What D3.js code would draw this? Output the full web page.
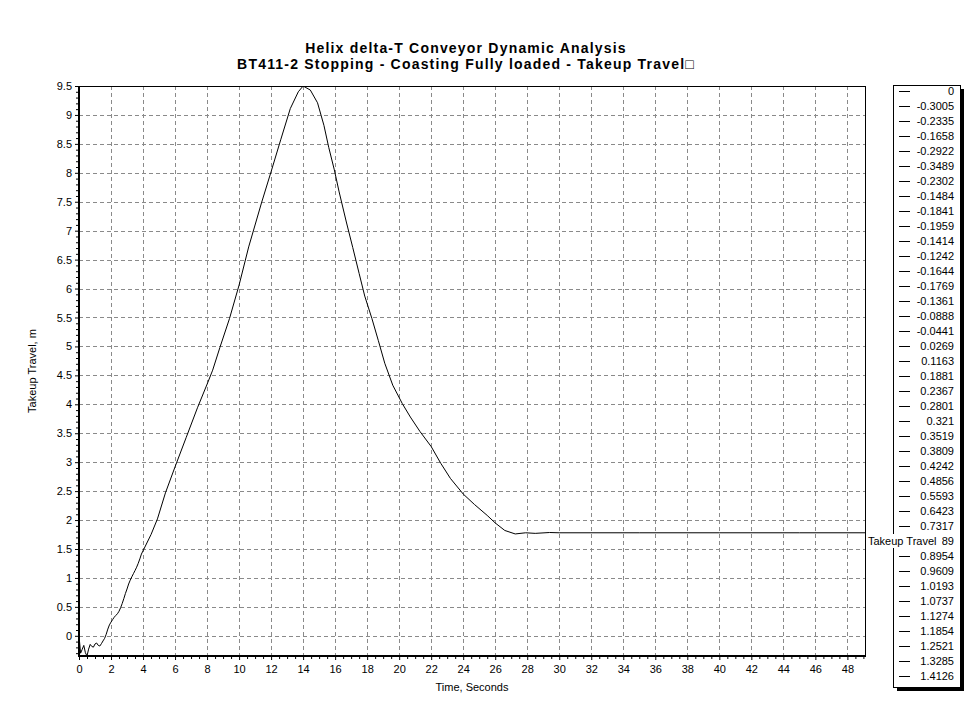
<!DOCTYPE html>
<html><head><meta charset="utf-8">
<script src="https://cdn.jsdelivr.net/npm/d3@7"></script>
<style>
body{margin:0;background:#fff;}
svg{display:block;font-family:"Liberation Sans",Arial,sans-serif;}
</style></head>
<body><svg id="c" width="980" height="716"></svg>
<script>
const titleLines = ["Helix delta-T Conveyor Dynamic Analysis", "BT411-2 Stopping - Coasting Fully loaded - Takeup Travel\u25A1"];
const xLabel = "Time, Seconds";
const yLabel = "Takeup Travel, m";
const seriesName = "Takeup Travel";

// legend entries (first 40 samples, as shown in the legend)
const legendValues = ["0","-0.3005","-0.2335","-0.1658","-0.2922","-0.3489","-0.2302","-0.1484","-0.1841","-0.1959",
  "-0.1414","-0.1242","-0.1644","-0.1769","-0.1361","-0.0888","-0.0441","0.0269","0.1163","0.1881",
  "0.2367","0.2801","0.321","0.3519","0.3809","0.4242","0.4856","0.5593","0.6423","0.7317",
  "0.8089","0.8954","0.9609","1.0193","1.0737","1.1274","1.1854","1.2521","1.3285","1.4126"];

const timeSeconds = [0,0.1,0.2,0.3,0.4,0.5,0.6,0.7,0.8,0.9,1.0,1.1,1.2,1.3,1.4,1.5,1.6,1.7,1.8,1.9,
  2.0,2.1,2.2,2.3,2.4,2.5,2.6,2.7,2.8,2.9,3.0,3.1,3.2,3.3,3.4,3.5,3.6,3.7,3.8,3.9,
  4.5,4.9,5.4,6.0,6.7,7.4,8.05,8.35,8.8,9.4,10.0,10.6,11.4,12.0,12.6,13.2,13.7,14.0,
  14.45,14.9,15.3,15.6,15.95,16.25,16.7,17.1,17.5,17.85,18.3,18.7,19.1,19.6,20.2,20.7,21.3,
  22.0,22.6,23.2,24.0,24.7,25.5,26.0,26.6,27.25,27.9,28.5,29.4,30,35,40,45,49.1];
const takeupTravel = [0,-0.3005,-0.2335,-0.1658,-0.2922,-0.3489,-0.2302,-0.1484,-0.1841,-0.1959,
  -0.1414,-0.1242,-0.1644,-0.1769,-0.1361,-0.0888,-0.0441,0.0269,0.1163,0.1881,
  0.2367,0.2801,0.321,0.3519,0.3809,0.4242,0.4856,0.5593,0.6423,0.7317,
  0.8089,0.8954,0.9609,1.0193,1.0737,1.1274,1.1854,1.2521,1.3285,1.4126,
  1.75,2.02,2.47,2.92,3.43,3.94,4.38,4.59,4.98,5.48,6.06,6.72,7.48,8.02,8.57,9.11,9.40,9.50,
  9.43,9.21,8.82,8.44,8.05,7.67,7.15,6.71,6.26,5.87,5.48,5.10,4.71,4.33,4.01,3.78,3.53,
  3.27,2.98,2.72,2.45,2.27,2.08,1.95,1.82,1.76,1.78,1.77,1.785,1.78,1.78,1.78,1.78,1.78];

const xTicks = [0,2,4,6,8,10,12,14,16,18,20,22,24,26,28,30,32,34,36,38,40,42,44,46,48];
const yTicks = [0,0.5,1,1.5,2,2.5,3,3.5,4,4.5,5,5.5,6,6.5,7,7.5,8,8.5,9,9.5];

const svg = d3.select("#c");
const L = 79, R = 865, T = 86, B = 656;
const x = d3.scaleLinear().domain([0, 49.1]).range([L, R]);
const y = d3.scaleLinear().domain([-0.3489, 9.5]).range([B, T]);

// title
svg.selectAll("text.title").data(titleLines).enter().append("text")
  .attr("x", 466).attr("y", (d,i)=>53+i*16).attr("text-anchor","middle")
  .attr("font-size", 14).attr("letter-spacing", 1.2).attr("font-weight","bold").text(d=>d);

// gridlines
const grid = svg.append("g").attr("stroke","#8a8a8a").attr("stroke-dasharray","4,3").attr("stroke-width",1);
grid.selectAll("line.vx").data(xTicks.filter(t=>t>0)).enter().append("line")
  .attr("x1",d=>Math.round(x(d))+0.5).attr("x2",d=>Math.round(x(d))+0.5).attr("y1",T).attr("y2",B);
grid.selectAll("line.hy").data(yTicks).enter().append("line")
  .attr("y1",d=>Math.round(y(d))+0.5).attr("y2",d=>Math.round(y(d))+0.5).attr("x1",L).attr("x2",R);

// axes
const xAxis = d3.axisBottom(x).tickValues(xTicks).tickSize(4).tickPadding(5).tickFormat(d3.format("d"));
const gx = svg.append("g").attr("transform",`translate(0,${B})`).call(xAxis);
const xMinor = d3.axisBottom(x).tickValues(d3.range(0.5, 49.1, 0.5).filter(v=>v%2!==0)).tickSize(3).tickFormat("");
const gx2 = svg.append("g").attr("transform",`translate(0,${B})`).call(xMinor);
const yAxis = d3.axisLeft(y).tickValues(yTicks).tickSize(4).tickPadding(3).tickFormat(d=>String(d));
const gy = svg.append("g").attr("transform",`translate(${L},0)`).call(yAxis);
const yMinorVals = d3.range(-3, 96).map(v=>v/10).filter(v=>Math.abs(v*2-Math.round(v*2))>1e-6);
const gy2 = svg.append("g").attr("transform",`translate(${L},0)`).call(d3.axisLeft(y).tickValues(yMinorVals).tickSize(3).tickFormat(""));
[gx,gx2,gy,gy2].forEach(g=>{g.select(".domain").remove(); g.selectAll("text").attr("font-size",11).attr("fill","#000").attr("font-family","Liberation Sans, Arial, sans-serif"); g.selectAll("line").attr("stroke","#000");});

// frame
svg.append("line").attr("x1",L).attr("x2",R).attr("y1",T+0.5).attr("y2",T+0.5).attr("stroke","#000");
svg.append("line").attr("x1",R+0.5).attr("x2",R+0.5).attr("y1",T).attr("y2",B).attr("stroke","#000");
svg.append("line").attr("x1",L).attr("x2",L).attr("y1",T).attr("y2",B+1).attr("stroke","#000").attr("stroke-width",2);
svg.append("line").attr("x1",L-1).attr("x2",R+1).attr("y1",B).attr("y2",B).attr("stroke","#000").attr("stroke-width",2);

// data line
svg.append("clipPath").attr("id","clip").append("rect").attr("x",L).attr("y",T).attr("width",R-L).attr("height",B-T);
const pts = timeSeconds.map((t,i)=>[t, takeupTravel[i]]);
svg.append("path").datum(pts).attr("clip-path","url(#clip)")
  .attr("fill","none").attr("stroke","#000").attr("stroke-width",1)
  .attr("d", d3.line().x(d=>x(d[0])).y(d=>y(d[1])));

// axis labels
svg.append("text").attr("x",(L+R)/2).attr("y",691).attr("text-anchor","middle").attr("font-size",11).text(xLabel);
svg.append("text").attr("transform",`translate(36,${(T+B)/2}) rotate(-90)`).attr("text-anchor","middle").attr("font-size",11).text(yLabel);

// legend
const LX = 893, LY = 85, LW = 67, LH = 602;
svg.append("rect").attr("x",LX+4).attr("y",LY+4).attr("width",LW).attr("height",LH).attr("fill","#000");
svg.append("rect").attr("x",LX+0.5).attr("y",LY+0.5).attr("width",LW).attr("height",LH).attr("fill","#fff").attr("stroke","#000");
const lg = svg.append("g");
const rowY = d3.scaleLinear().domain([0, legendValues.length-1]).range([91, 676]);
lg.selectAll("line").data(legendValues).enter().append("line")
  .attr("x1",899).attr("x2",910).attr("y1",(d,i)=>Math.round(rowY(i))+0.5).attr("y2",(d,i)=>Math.round(rowY(i))+0.5).attr("stroke","#000");
lg.selectAll("text").data(legendValues).enter().append("text")
  .attr("x",954).attr("y",(d,i)=>rowY(i)+4).attr("text-anchor","end").attr("font-size",11).text(d=>d);

// series end label (drawn over the legend, as in the original)
const lastY = rowY(30);
const lbl = svg.append("g");
lbl.append("rect").attr("x",866).attr("y",lastY-7).attr("width",76).attr("height",14).attr("fill","#fff");
lbl.append("text").attr("x",868).attr("y",lastY+4).attr("font-size",11).text(seriesName);
</script></body></html>
